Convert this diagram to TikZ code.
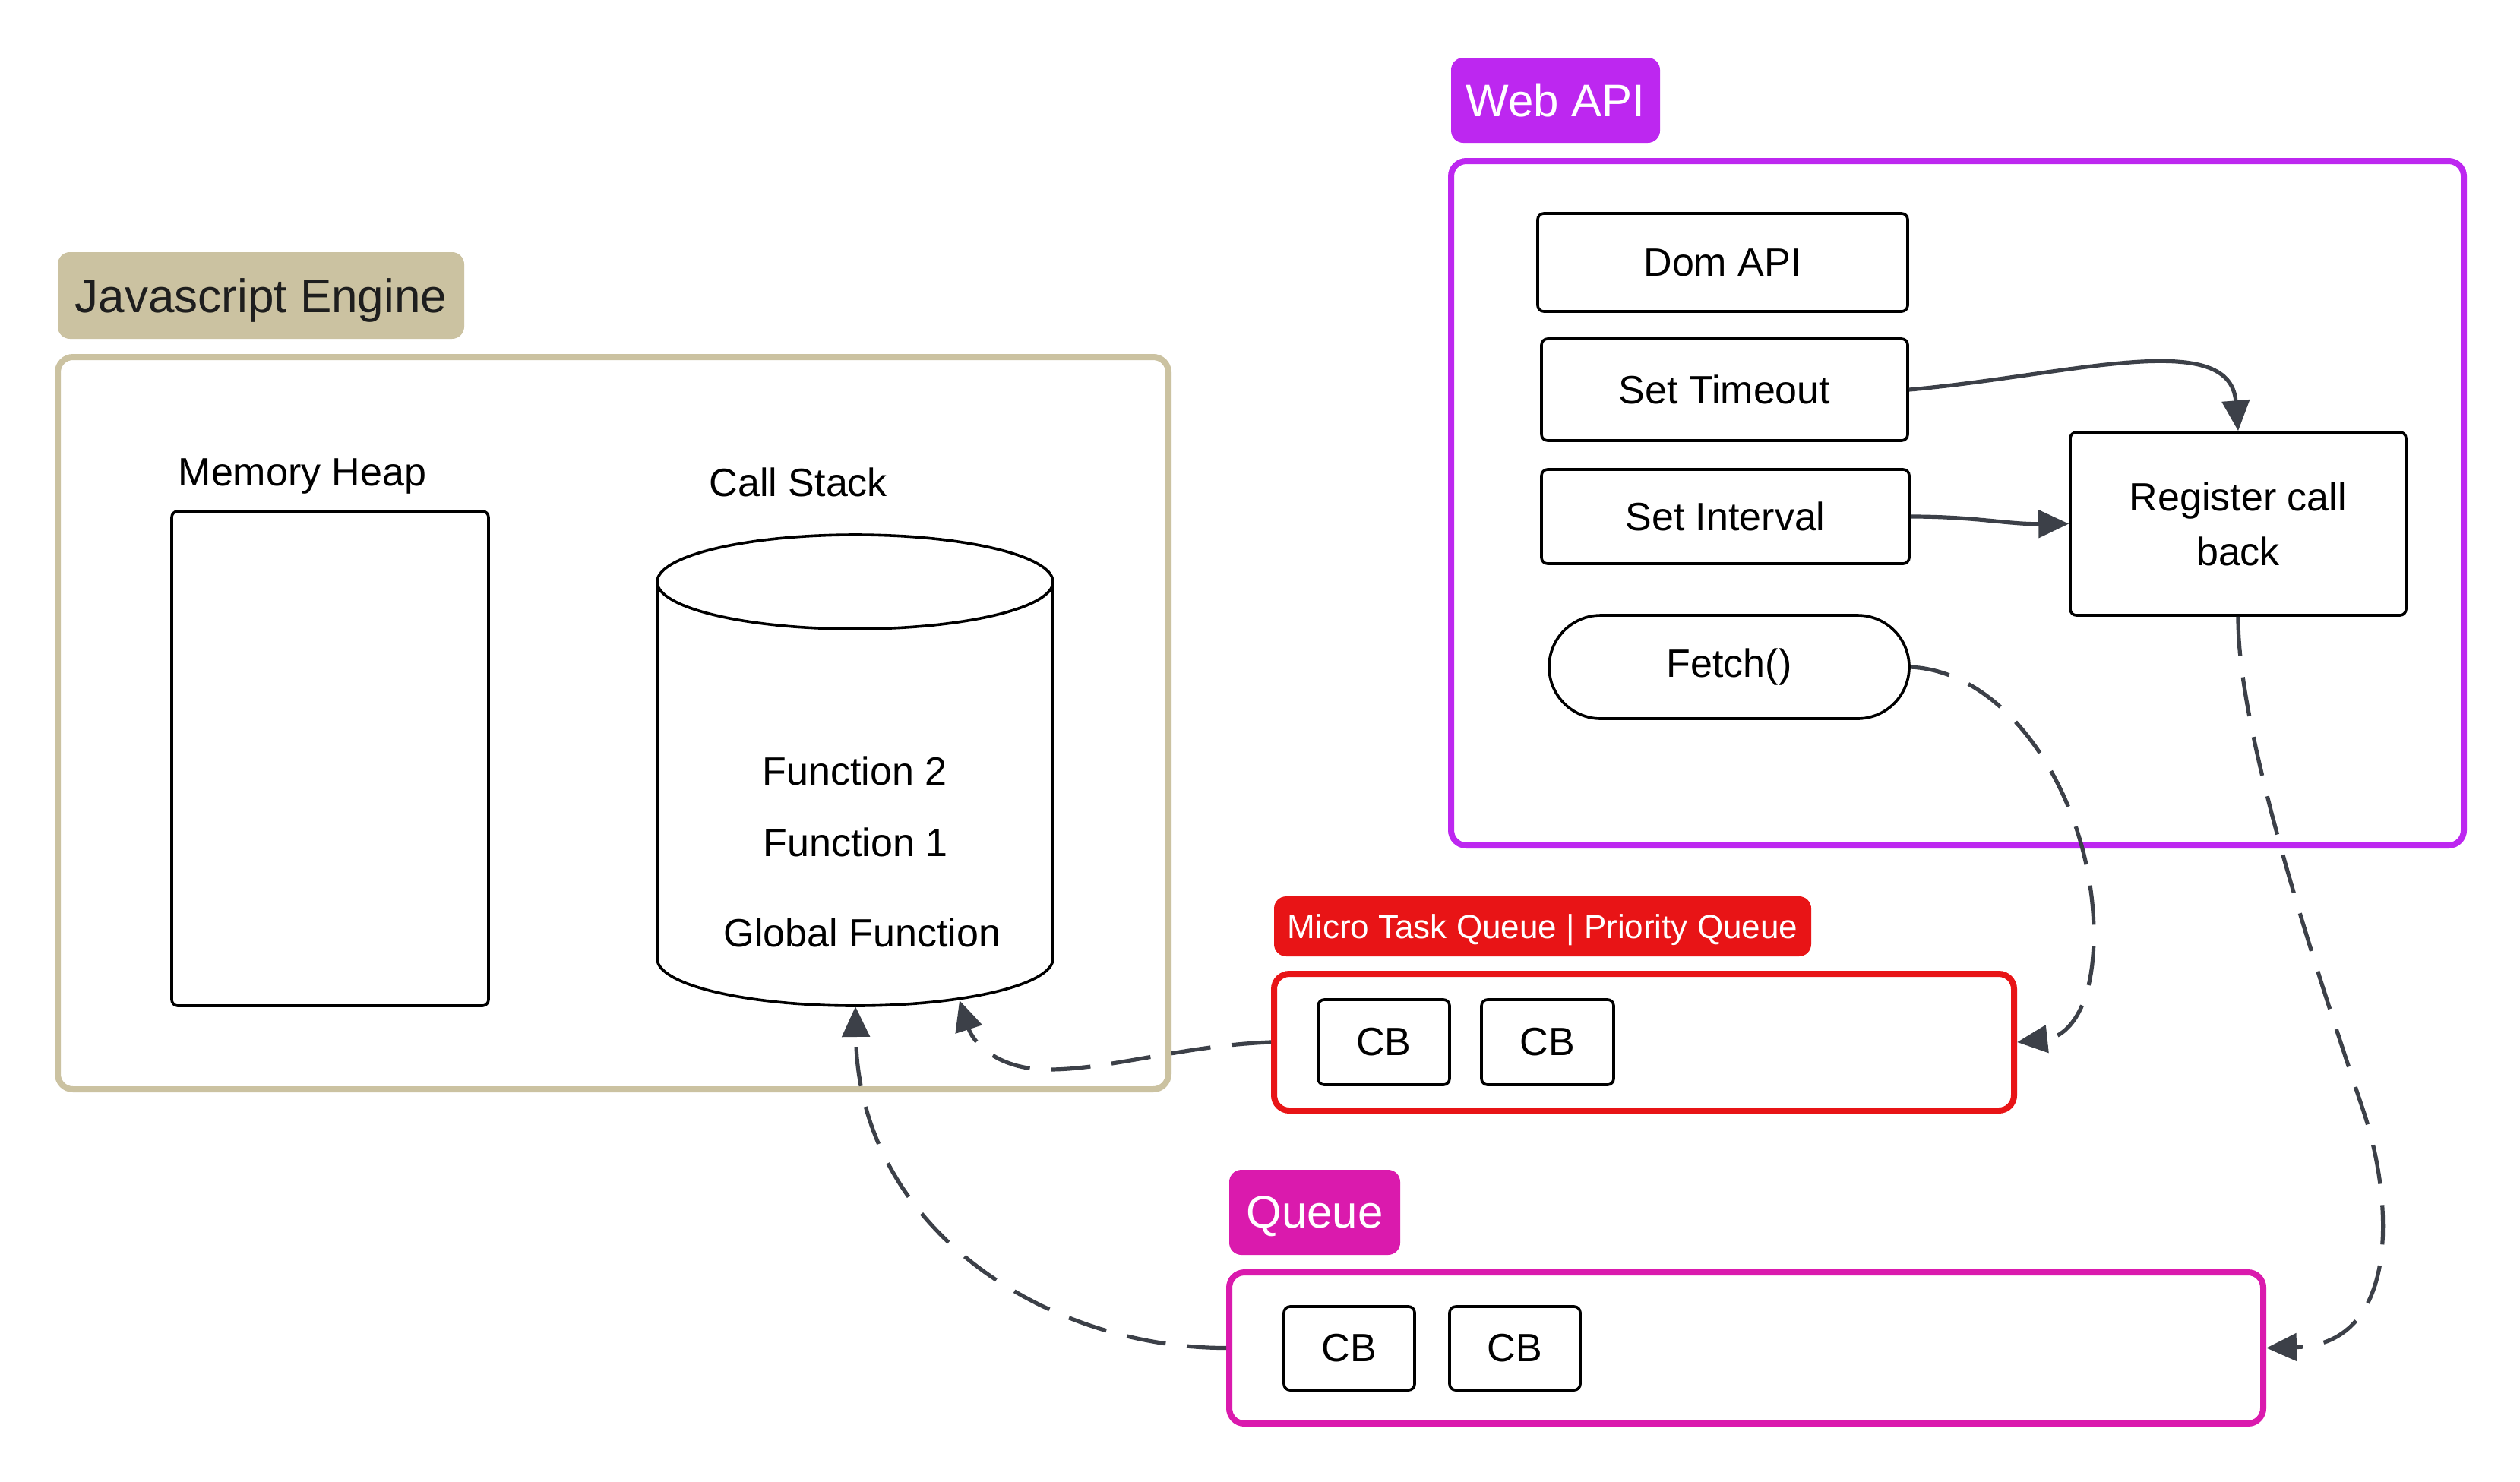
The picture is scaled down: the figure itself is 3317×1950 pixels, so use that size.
\documentclass[tikz,border=0pt]{standalone}
\usepackage{fontspec}
\setmainfont{Liberation Sans}
\usetikzlibrary{fit,arrows.meta}
\definecolor{tanc}{HTML}{CBC2A1}
\definecolor{purplec}{HTML}{BD27F0}
\definecolor{redc}{HTML}{E81416}
\definecolor{magentac}{HTML}{DA1AAD}
\definecolor{connc}{HTML}{3C4048}
\definecolor{darktext}{HTML}{1E1E1E}
\begin{document}
\begin{tikzpicture}[x=0.25pt,y=-0.25pt,
  frame/.style={draw, line width=2pt, rounded corners=5pt, inner sep=0pt},
  tag/.style={rounded corners=4pt, inner sep=0pt, text depth=0pt, text=white, font=\fontsize{15}{18}\selectfont},
  box/.style={draw=black, line width=0.9pt, rounded corners=2pt, inner sep=0pt, font=\fontsize{13}{18}\selectfont, align=center},
  sz/.style 2 args={minimum width=#1, minimum height=#2},
  plain/.style={inner sep=0pt, text depth=0pt, font=\fontsize{13}{18}\selectfont},
  conn/.style={draw=connc, line width=1.3pt, -{Triangle[length=10pt,width=9pt]}},
  dconn/.style={conn, dash pattern=on 13pt off 7pt}
]
\useasboundingbox (0,0) rectangle (3317,1950);

% Javascript engine
\node[tag, fill=tanc, text=darktext, font=\fontsize{15.5}{18}\selectfont, sz={133.75pt}{28.5pt}] (jslbl) at (343.5,389) {Javascript Engine};
\node[frame, draw=tanc, fit={(76,470) (1538,1434)}] (js) {};
\node[plain] (memlbl) at (398,622) {Memory Heap};
\node[box, fit={(226,673) (643,1324)}] (heap) {};
\node[plain] (cslbl) at (1051,635) {Call Stack};

% cylinder (call stack)
\draw[line width=0.9pt] (865,766) -- (865,1262) arc[start angle=180, end angle=360, x radius=65.125pt, y radius=15.5pt] -- (1386,766);
\draw[line width=0.9pt] (1125.5,766) ellipse [x radius=65.125pt, y radius=15.5pt];
\node[plain] (f2) at (1125,1015) {Function 2};
\node[plain] (f1) at (1126,1109) {Function 1};
\node[plain] (gf) at (1135,1228) {Global Function};
\coordinate (stackbot) at (1126,1325);
\coordinate (stackbotr) at (1263,1317);

% Web API
\node[tag, fill=purplec, sz={68.75pt}{28pt}] (weblbl) at (2047.5,132) {Web API};
\node[frame, draw=purplec, fit={(1910,212) (3243,1113)}] (web) {};
\node[box, sz={121.75pt}{32.25pt}] (dom) at (2267.5,345.5) {Dom API};
\node[box, sz={120.5pt}{33.5pt}] (timeout) at (2270,513) {Set Timeout};
\node[box, sz={121pt}{31pt}] (interval) at (2271,680) {Set Interval};
\node[box, rounded corners=17pt, sz={118.5pt}{34pt}] (fetch) at (2276,878) {Fetch()};
\node[box, sz={110.5pt}{60.25pt}] (reg) at (2946,689.5) {Register call\\back};

% Micro task queue
\node[tag, fill=redc, font=\fontsize{11}{13}\selectfont, sz={176.75pt}{19.75pt}] (microlbl) at (2030.5,1219.5) {Micro Task Queue | Priority Queue};
\node[frame, draw=redc, fit={(1677,1282) (2651,1462)}] (micro) {};
\node[box, sz={43.25pt}{28pt}] (cb1) at (1821.5,1372) {CB};
\node[box, sz={43.5pt}{28pt}] (cb2) at (2037,1372) {CB};

% Queue
\node[tag, fill=magentac, sz={56.25pt}{28pt}] (queuelbl) at (1730.5,1596) {Queue};
\node[frame, draw=magentac, fit={(1618,1675) (2979,1874)}] (queue) {};
\node[box, sz={43pt}{27.5pt}] (cb3) at (1776,1775) {CB};
\node[box, sz={43pt}{27.5pt}] (cb4) at (1994,1775) {CB};

% connectors
\draw[conn] (timeout.east) .. controls (2720,495) and (2935,430) .. (reg.north);
\draw[conn] (interval.east) .. controls (2600,680) and (2640,690) .. (reg.west);
\draw[dconn] (fetch.east) .. controls (2650,885) and (2756,1060) .. (2756,1230) .. controls (2756,1330) and (2720,1365) .. (micro.east);
\draw[dconn] (reg.south) .. controls (2945,960) and (3040,1250) .. (3110,1460) .. controls (3148,1570) and (3165,1770) .. (queue.east);
\draw[dconn] (micro.west) .. controls (1560,1376) and (1460,1408) .. (1380,1408) .. controls (1310,1408) and (1280,1370) .. (stackbotr);
\draw[dconn] (queue.west) .. controls (1380,1775) and (1130,1620) .. (stackbot);
\end{tikzpicture}
\end{document}
